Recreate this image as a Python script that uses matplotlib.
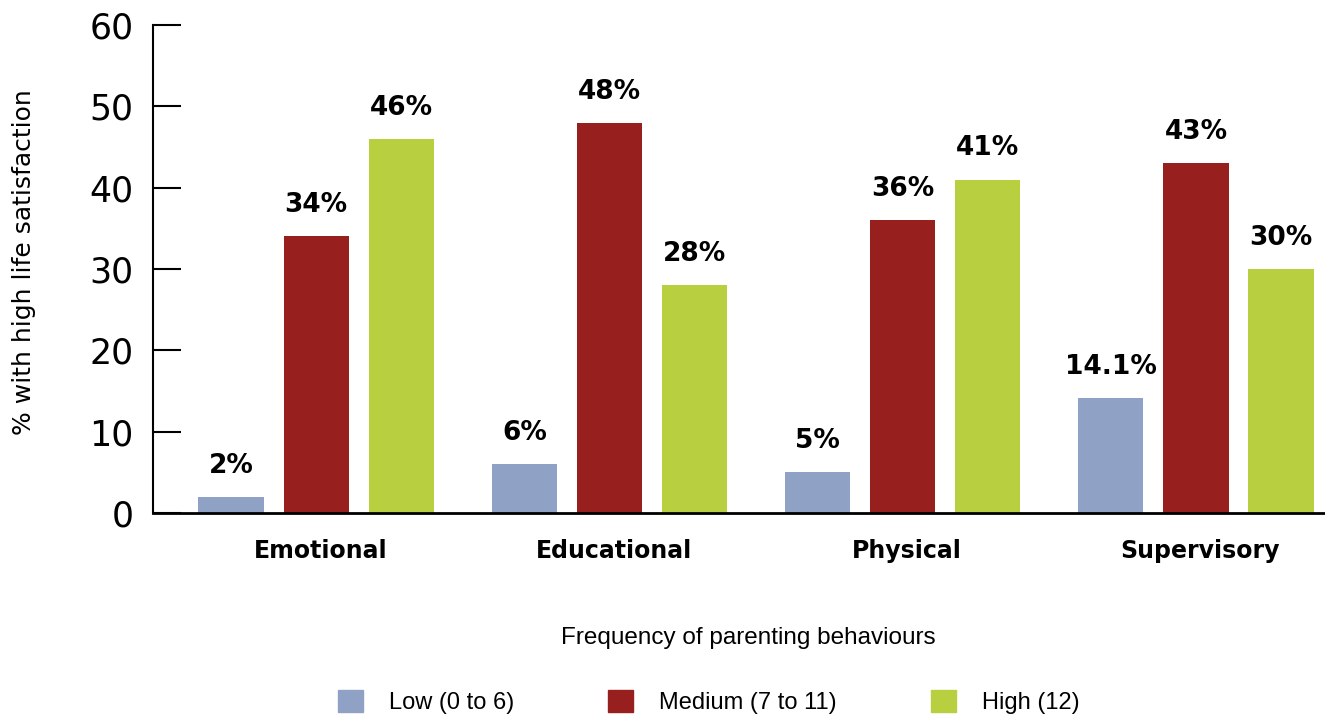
import matplotlib
matplotlib.use('Agg')
import matplotlib.pyplot as plt
import numpy as np
from matplotlib.patches import Patch

matplotlib.rcParams.update({'font.family': ['DejaVu Sans']})

categories = ['Emotional', 'Educational', 'Physical', 'Supervisory']
series = ['Low (0 to 6)', 'Medium (7 to 11)', 'High (12)']
low = [2, 6, 5, 14.1]
medium = [34, 48, 36, 43]
high = [46, 28, 41, 30]
colors = ['#8fa1c4', '#97201f', '#b8cf40']

x = np.arange(len(categories))
width = 0.222
offset = 0.29

fig = plt.figure(figsize=(13.25, 7.14), dpi=100)
ax = fig.add_axes([0.1155, 0.2815, 0.8845, 0.6835])

for i, (vals, c) in enumerate(zip([low, medium, high], colors)):
    rects = ax.bar(x + (i - 1) * offset, vals, width, color=c, zorder=2)
    for r, v in zip(rects, vals):
        ax.annotate('{:g}%'.format(v),
                    xy=(r.get_x() + r.get_width() / 2, r.get_height()),
                    xytext=(0, 13), textcoords='offset points',
                    ha='center', va='bottom', fontsize=19, fontweight='bold')

ax.set_ylim(0, 60)
ax.set_xlim(-0.556, 3.44)
ax.set_yticks(range(0, 61, 10))
ax.tick_params(axis='y', direction='in', length=20, width=1.5, pad=14, labelsize=25)
ax.set_xticks(x + 0.015)
ax.set_xticklabels(categories, fontsize=17, fontweight='bold')
ax.tick_params(axis='x', length=0, pad=19)

for s in ['top', 'right']:
    ax.spines[s].set_visible(False)
ax.spines['left'].set_linewidth(1.5)
ax.spines['bottom'].set_linewidth(2)

ax.set_ylabel('% with high life satisfaction', fontsize=18)
ax.yaxis.set_label_coords(-0.1, 0.514)

fig.text(0.565, 0.106, 'Frequency of parenting behaviours', ha='center', va='center',
         fontsize=17.5, family=['Liberation Sans', 'DejaVu Sans'])

handles = [Patch(color=c) for c in colors]
fig.legend(handles, series, loc='center', bbox_to_anchor=(0.535, 0.017), ncol=3,
           frameon=False, prop={'family': ['Liberation Sans', 'DejaVu Sans'], 'size': 17},
           handlelength=1.06, handleheight=1.1, handletextpad=1.1, columnspacing=4.0)

fig.savefig('out.png', dpi=100)
